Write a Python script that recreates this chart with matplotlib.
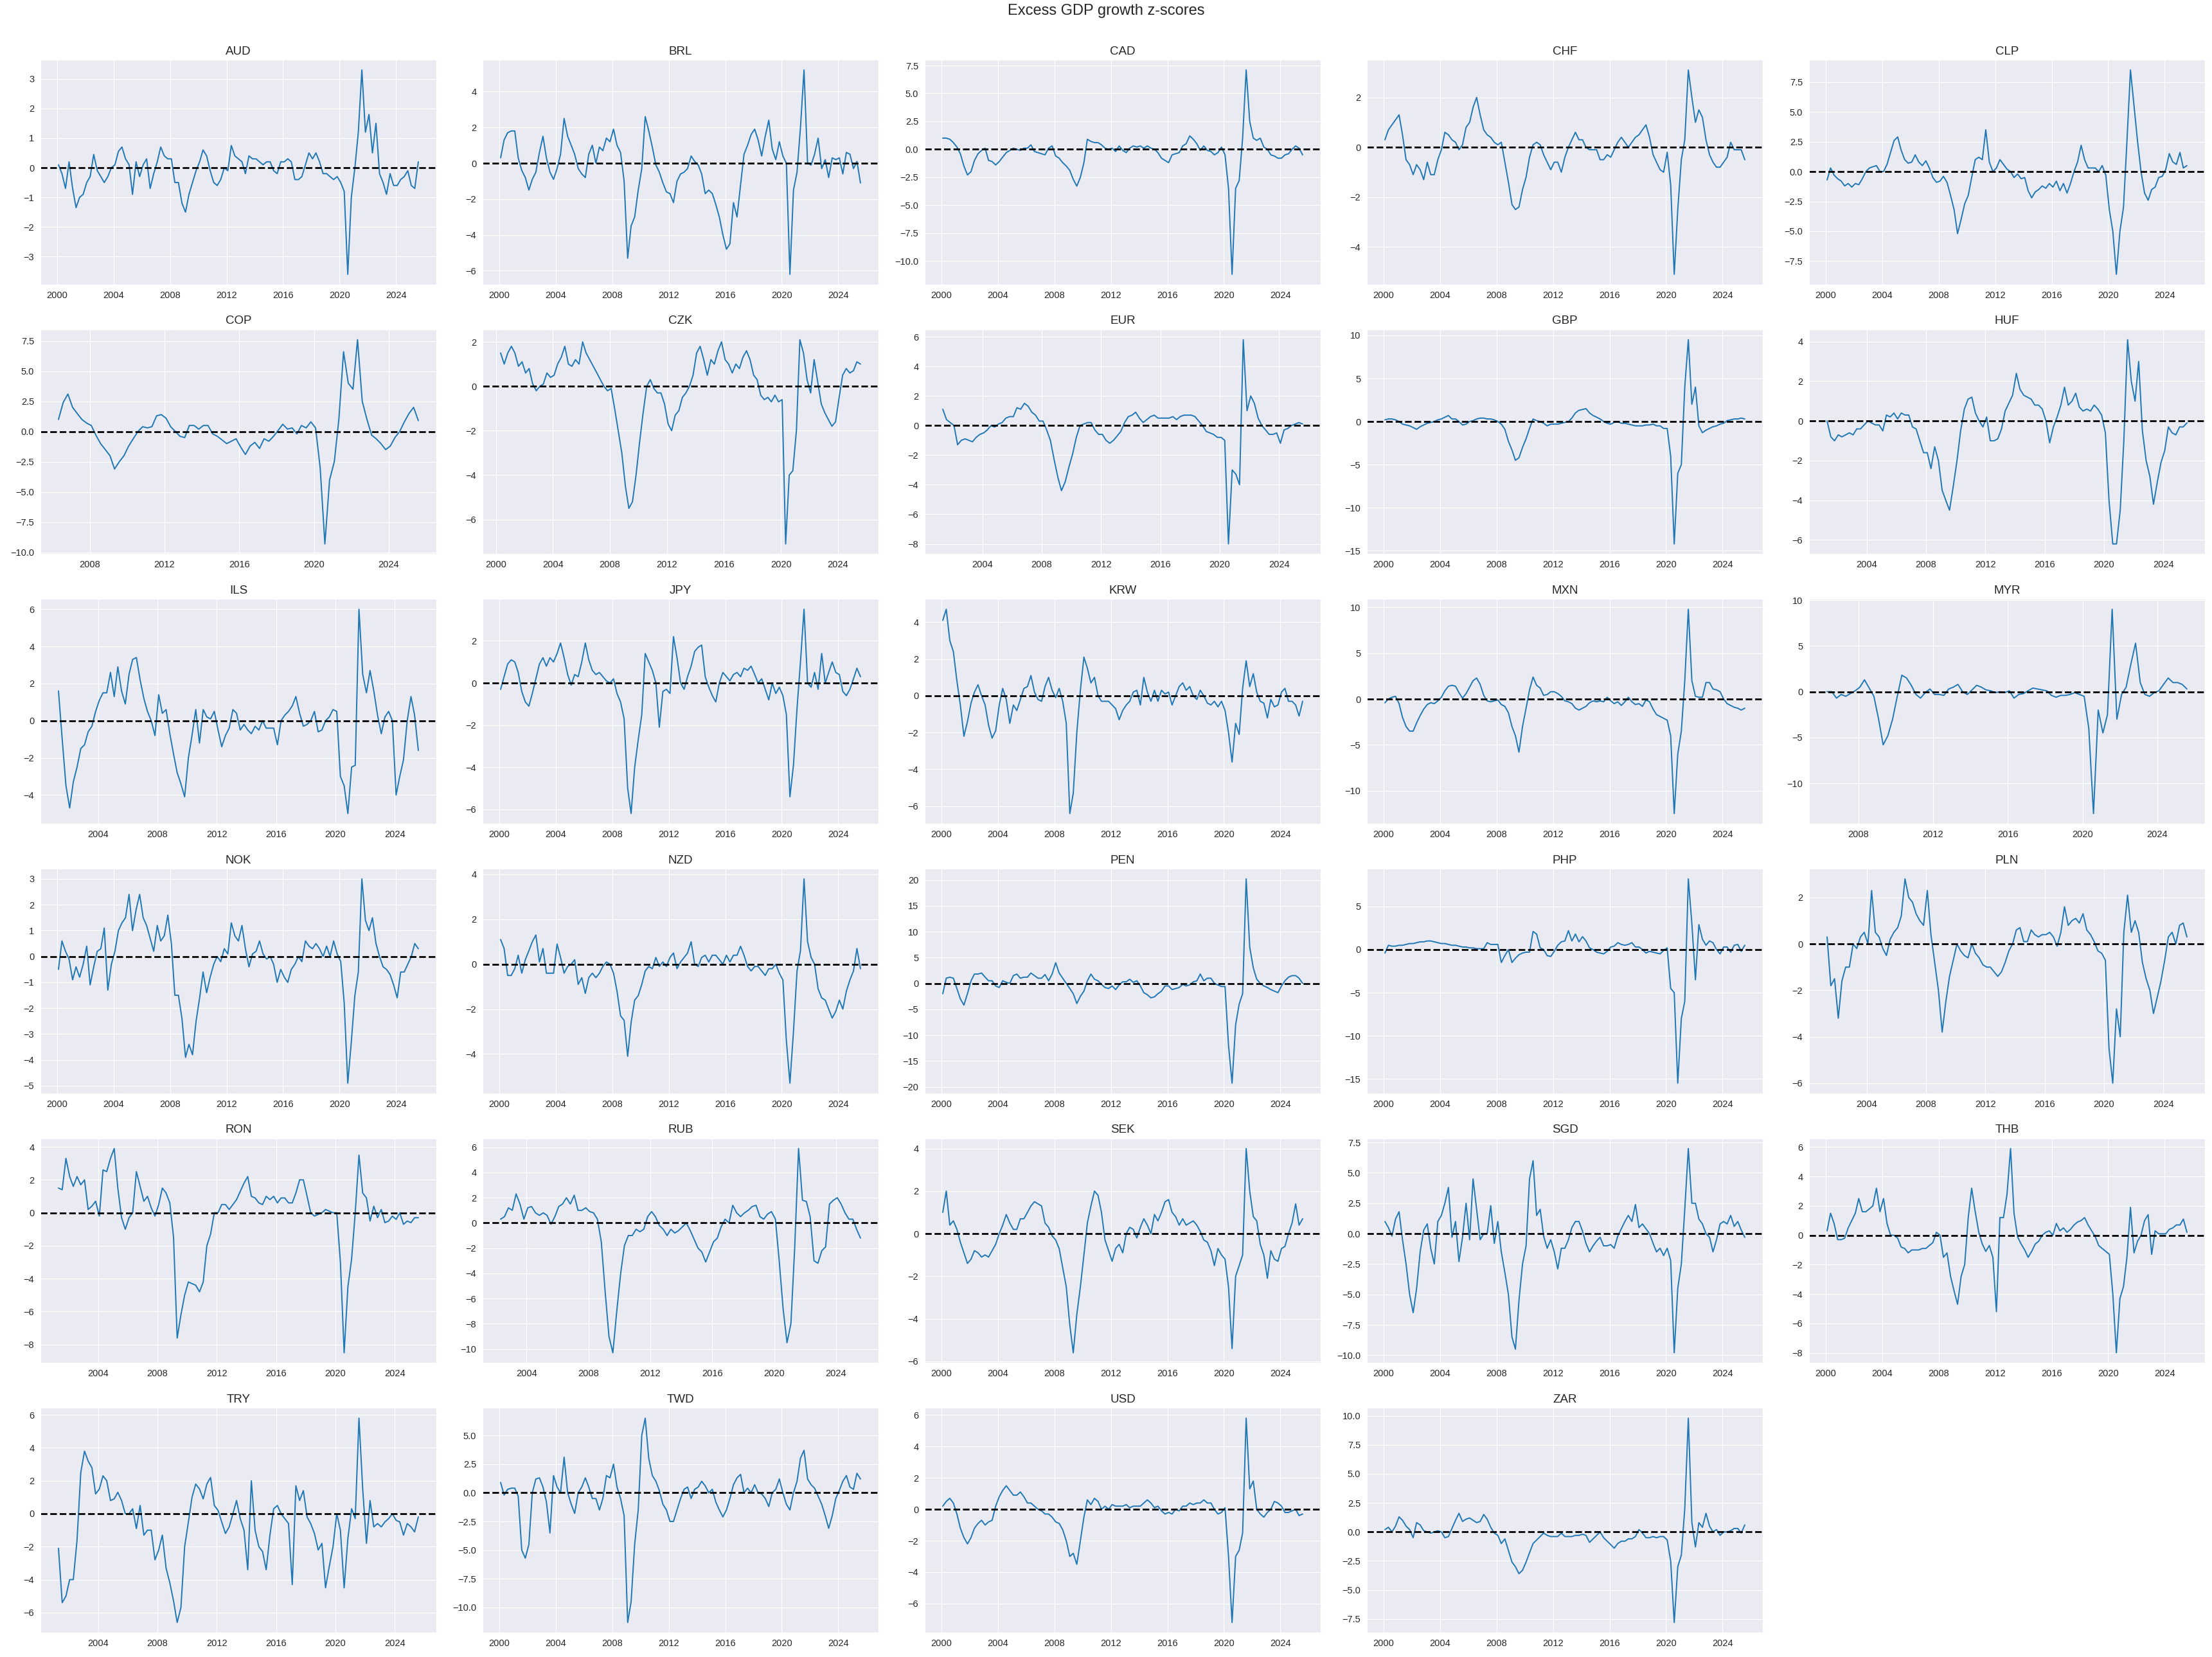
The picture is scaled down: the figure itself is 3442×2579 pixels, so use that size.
import pandas as pd
import matplotlib
matplotlib.use('Agg')
import matplotlib.pyplot as plt
import matplotlib.dates as mdates
import seaborn as sns

# Quarterly readings of the z-scores (Feb / May / Aug / Nov), one row per year.

aud_start = '2000-02-01'
aud = [0.1, -0.2, -0.7, 0.2,  # 2000
       -0.7, -1.35, -1.0, -0.9,
       -0.5, -0.3, 0.45, -0.1,
       -0.3, -0.5, -0.3, 0.0,
       0.1, 0.55, 0.7, 0.3,
       0.1, -0.9, 0.2, -0.3,  # 2005
       0.1, 0.3, -0.7, -0.2,
       0.2, 0.7, 0.4, 0.3,
       0.3, -0.5, -0.5, -1.2,
       -1.5, -0.9, -0.5, -0.1,
       0.2, 0.6, 0.4, -0.1,  # 2010
       -0.5, -0.6, -0.4, 0.0,
       -0.1, 0.75, 0.4, 0.3,
       0.2, -0.2, 0.4, 0.3,
       0.3, 0.2, 0.1, 0.2,
       0.2, -0.1, -0.2, 0.2,  # 2015
       0.2, 0.3, 0.2, -0.4,
       -0.4, -0.3, 0.1, 0.5,
       0.3, 0.5, 0.2, -0.2,
       -0.2, -0.3, -0.4, -0.3,
       -0.5, -0.8, -3.6, -1.0,  # 2020
       0.0, 1.2, 3.3, 1.2,
       1.8, 0.5, 1.5, -0.2,
       -0.5, -0.9, -0.2, -0.6,
       -0.6, -0.4, -0.3, -0.1,
       -0.6, -0.7, 0.2]  # 2025

brl_start = '2000-02-01'
brl = [0.3, 1.3, 1.7, 1.8,
       1.8, 0.3, -0.4, -0.8,
       -1.5, -0.9, -0.5, 0.6,
       1.5, 0.3, -0.5, -0.9,
       -0.3, 0.5, 2.5, 1.5,
       1.0, 0.5, -0.3, -0.6,
       -0.8, 0.5, 1.0, 0.0,
       0.9, 0.7, 1.4, 1.2,
       1.9, 1.0, 0.6, -1.0,
       -5.3, -3.5, -3.0, -1.5,
       -0.3, 2.6, 1.8, 0.9,
       -0.1, -0.5, -1.1, -1.6,
       -1.7, -2.2, -1.0, -0.6,
       -0.5, -0.3, 0.4, 0.1,
       -0.1, -0.6, -1.7, -1.5,
       -1.7, -2.3, -3.0, -4.0,
       -4.8, -4.5, -2.2, -3.0,
       -1.2, 0.5, 1.0, 1.6,
       1.9, 1.3, 0.4, 1.5,
       2.4, 0.8, 0.2, 1.2,
       0.4, 0.0, -6.2, -1.5,
       -0.5, 2.0, 5.2, 0.0,
       -0.1, 0.5, 1.4, -0.3,
       0.2, -0.8, 0.3, 0.2,
       0.3, -0.6, 0.6, 0.5,
       -0.3, 0.1, -1.1]

cad_start = '2000-02-01'
cad = [1.0, 1.0, 0.9, 0.6,
       0.2, -0.4, -1.5, -2.3,
       -2.0, -1.0, -0.4, -0.1,
       0.1, -1.0, -1.1, -1.4,
       -1.1, -0.7, -0.3, -0.1,
       0.1, 0.0, -0.1, 0.1,
       0.1, 0.4, -0.2, -0.3,
       -0.4, -0.5, 0.1, 0.3,
       -0.6, -0.8, -1.2, -1.5,
       -1.9, -2.7, -3.3, -2.5,
       -1.2, 0.9, 0.7, 0.6,
       0.6, 0.4, 0.1, 0.0,
       0.1, -0.2, 0.3, -0.1,
       -0.3, 0.1, 0.3, 0.2,
       0.3, 0.1, 0.3, 0.1,
       0.0, -0.3, -0.8, -1.0,
       -1.2, -0.5, -0.4, -0.3,
       0.3, 0.5, 1.2, 0.9,
       0.5, -0.1, 0.3, -0.1,
       -0.2, -0.5, -0.3, 0.2,
       -0.5, -3.5, -11.2, -3.5,
       -2.8, 1.0, 7.1, 2.5,
       1.0, 0.8, 1.0, 0.2,
       0.0, -0.5, -0.6, -0.8,
       -0.8, -0.5, -0.4, 0.0,
       0.3, 0.1, -0.5]

chf_start = '2000-02-01'
chf = [0.3, 0.7, 0.9, 1.1,
       1.3, 0.5, -0.5, -0.7,
       -1.1, -0.7, -0.9, -1.3,
       -0.6, -1.1, -1.1, -0.5,
       -0.1, 0.6, 0.5, 0.3,
       0.2, -0.1, 0.1, 0.8,
       1.0, 1.6, 2.0, 1.3,
       0.7, 0.5, 0.4, 0.2,
       0.1, 0.2, -0.6, -1.4,
       -2.3, -2.5, -2.4, -1.7,
       -1.2, -0.4, 0.1, 0.2,
       0.1, -0.3, -0.6, -0.9,
       -0.6, -0.6, -1.0, -0.4,
       0.0, 0.3, 0.6, 0.3,
       0.3, 0.0, -0.1, -0.1,
       -0.1, -0.5, -0.5, -0.3,
       -0.4, -0.1, 0.2, 0.4,
       0.2, 0.0, 0.2, 0.4,
       0.5, 0.7, 0.9, 0.4,
       -0.3, -0.6, -0.9, -1.0,
       -0.2, -1.5, -5.1, -2.5,
       -0.5, 0.3, 3.1, 2.0,
       1.0, 1.5, 1.2, 0.3,
       -0.3, -0.6, -0.8, -0.8,
       -0.6, -0.4, 0.2, -0.1,
       -0.1, -0.1, -0.5]

clp_start = '2000-02-01'
clp = [-0.7, 0.3, -0.3, -0.6,
       -0.8, -1.2, -1.0, -1.3,
       -1.0, -1.1, -0.6, 0.0,
       0.3, 0.4, 0.5, 0.0,
       0.0, 0.6, 1.6, 2.6,
       2.9, 1.8, 1.0, 0.7,
       0.8, 1.4, 0.8, 0.5,
       0.9, 0.3, -0.5, -0.9,
       -0.8, -0.4, -0.9, -2.0,
       -3.2, -5.2, -4.0, -2.7,
       -2.0, -0.5, 1.0, 1.2,
       1.0, 3.5, 0.8, 0.0,
       0.3, 1.0, 0.6, 0.2,
       0.0, -0.5, -0.2, -0.6,
       -0.5, -1.6, -2.2, -1.7,
       -1.5, -1.2, -1.4, -1.0,
       -1.3, -0.8, -1.6, -1.0,
       -1.8, -1.0, 0.0, 0.8,
       2.2, 1.0, 0.3, 0.3,
       0.3, 0.0, 0.5, -0.3,
       -3.2, -5.0, -8.6, -5.0,
       -3.0, 2.5, 8.5, 5.5,
       2.5, 0.0, -1.8, -2.4,
       -1.5, -1.3, -0.5, -0.4,
       0.2, 1.5, 0.8, 0.6,
       1.6, 0.3, 0.5]

cop_start = '2006-05-01'
cop = [1.0, 2.4, 3.1,  # 2006
       2.0, 1.5, 1.0, 0.7,
       0.5, -0.3, -1.0, -1.5,
       -2.0, -3.1, -2.5, -2.0,
       -1.2, -0.6, 0.0, 0.4,
       0.3, 0.4, 1.3, 1.4,
       1.1, 0.4, 0.0, -0.4,
       -0.5, 0.5, 0.5, 0.2,
       0.5, 0.5, -0.2, -0.4,
       -0.7, -1.0, -0.8, -0.6,
       -1.3, -1.9, -1.2, -0.9,
       -1.4, -0.6, -0.8, -0.4,
       0.1, 0.6, 0.2, 0.3,
       -0.2, 0.5, 0.3, 0.8,
       0.3, -3.0, -9.3, -4.0,
       -2.5, 1.0, 6.6, 4.0,
       3.5, 7.6, 2.5, 1.0,
       -0.3, -0.6, -1.0, -1.5,
       -1.2, -0.5, 0.0, 0.8,
       1.5, 2.0, 0.9]

czk_start = '2000-05-01'
czk = [1.5, 1.0, 1.5,  # 2000
       1.8, 1.5, 0.9, 1.1,
       0.6, 0.8, 0.1, -0.2,
       0.0, 0.1, 0.6, 0.4,
       0.5, 1.0, 1.3, 1.8,
       1.0, 0.9, 1.2, 1.0,
       2.0, 1.5, 1.2, 0.9,
       0.6, 0.3, 0.0, -0.2,
       -0.1, -1.0, -2.0, -3.0,
       -4.5, -5.5, -5.2, -4.0,
       -2.5, -1.2, 0.0, 0.3,
       -0.1, -0.3, -0.3, -0.8,
       -1.7, -2.0, -1.3, -1.1,
       -0.5, -0.3, 0.0, 0.5,
       1.5, 1.8, 1.2, 0.5,
       1.2, 1.0, 1.6, 2.0,
       1.2, 1.0, 0.6, 1.0,
       0.8, 1.3, 1.6, 1.2,
       0.5, 0.3, -0.4, -0.6,
       -0.5, -0.7, -0.4, -0.7,
       -0.6, -7.1, -4.0, -3.8,
       -2.0, 2.1, 1.5, 0.3,
       -0.3, 1.2, 0.2, -0.8,
       -1.2, -1.5, -1.8, -1.6,
       -0.5, 0.5, 0.8, 0.6,
       0.7, 1.1, 1.0]

eur_start = '2001-05-01'
eur = [1.1, 0.4, 0.2,  # 2001
       0.0, -1.3, -1.0, -0.9,
       -1.0, -1.1, -0.8, -0.6,
       -0.5, -0.3, 0.0, -0.1,
       0.1, 0.2, 0.5, 0.6,
       0.6, 1.2, 1.1, 1.5,
       1.3, 0.9, 0.7, 0.3,
       0.3, -0.3, -1.0, -2.3,
       -3.5, -4.4, -3.8, -2.8,
       -1.9, -0.8, 0.0, 0.1,
       0.2, 0.2, -0.3, -0.6,
       -0.6, -1.0, -1.2, -1.0,
       -0.7, -0.4, 0.2, 0.6,
       0.7, 0.9, 0.5, 0.2,
       0.4, 0.6, 0.7, 0.5,
       0.5, 0.5, 0.5, 0.6,
       0.4, 0.6, 0.7, 0.7,
       0.7, 0.6, 0.3, 0.0,
       -0.4, -0.5, -0.6, -0.8,
       -0.8, -1.0, -8.0, -3.0,
       -3.3, -4.0, 5.8, 1.0,
       2.0, 1.5, 0.5, 0.0,
       -0.3, -0.6, -0.6, -0.5,
       -1.2, -0.3, -0.2, 0.0,
       0.1, 0.2, 0.1]

gbp_start = '2000-02-01'
gbp = [0.2, 0.3, 0.3, 0.2,
       0.0, -0.3, -0.4, -0.5,
       -0.7, -0.9, -0.6, -0.4,
       -0.2, -0.1, 0.0, 0.2,
       0.3, 0.5, 0.7, 0.3,
       0.3, 0.0, -0.4, -0.3,
       0.0, 0.1, 0.3, 0.4,
       0.4, 0.3, 0.3, 0.2,
       0.0, -0.3, -0.9, -2.3,
       -3.3, -4.5, -4.2, -3.0,
       -2.0, -0.8, 0.3, 0.1,
       0.0, -0.2, -0.5, -0.3,
       -0.3, -0.3, -0.2, -0.1,
       0.0, 0.4, 1.0, 1.3,
       1.4, 1.5, 1.0, 0.7,
       0.5, 0.3, 0.0, -0.2,
       -0.3, -0.1, 0.0, -0.2,
       -0.2, -0.3, -0.4, -0.5,
       -0.5, -0.5, -0.4, -0.4,
       -0.3, -0.5, -0.5, -0.8,
       -0.8, -4.0, -14.2, -6.0,
       -5.0, 4.0, 9.5, 2.0,
       4.0, -0.5, -1.3, -1.0,
       -0.8, -0.6, -0.5, -0.3,
       -0.2, 0.1, 0.2, 0.3,
       0.3, 0.4, 0.3]

huf_start = '2001-05-01'
huf = [0.0, -0.8, -1.0,  # 2001
       -0.7, -0.8, -0.7, -0.6,
       -0.7, -0.4, -0.4, -0.2,
       0.0, -0.1, -0.2, -0.2,
       -0.5, 0.3, 0.2, 0.4,
       0.1, 0.4, 0.3, 0.3,
       -0.3, -0.4, -1.0, -1.6,
       -1.6, -2.4, -1.3, -2.0,
       -3.5, -4.0, -4.5, -3.3,
       -2.0, -0.5, 0.6, 1.1,
       1.2, 0.4, 0.0, -0.3,
       0.2, -1.0, -1.0, -0.9,
       -0.4, 0.5, 0.9, 1.3,
       2.4, 1.6, 1.3, 1.2,
       1.1, 0.8, 0.8, 0.6,
       0.0, -1.1, -0.3, 0.2,
       0.8, 1.7, 0.8, 1.0,
       1.4, 0.7, 0.5, 0.6,
       0.5, 0.8, 0.6, 0.3,
       -0.6, -4.0, -6.2, -6.2,
       -4.5, -1.0, 4.1, 2.0,
       1.0, 3.0, -0.5, -2.0,
       -2.8, -4.2, -3.1, -2.1,
       -1.5, -0.3, -0.6, -0.7,
       -0.3, -0.3, -0.1]

ils_start = '2001-05-01'
ils = [1.6, -1.0, -3.5,  # 2001
       -4.7, -3.3, -2.5, -1.5,
       -1.3, -0.6, -0.3, 0.5,
       1.1, 1.5, 1.5, 2.6,
       1.3, 2.9, 1.6, 0.9,
       2.5, 3.3, 3.4, 2.2,
       1.2, 0.5, 0.0, -0.8,
       1.4, 0.4, 0.6, -0.7,
       -1.8, -2.8, -3.4, -4.1,
       -2.0, -0.8, 0.6, -1.2,
       0.6, 0.2, 0.1, 0.5,
       -0.5, -1.4, -0.8, -0.4,
       0.6, 0.4, -0.5, -0.2,
       -0.5, -0.7, -0.3, -0.5,
       0.0, -0.4, -0.4, -0.4,
       -1.3, 0.0, 0.3, 0.5,
       0.8, 1.3, 0.4, -0.3,
       -0.2, 0.0, 0.5, -0.6,
       -0.5, 0.0, 0.2, 0.6,
       0.5, -3.0, -3.5, -5.0,
       -2.5, -2.4, 6.0, 2.5,
       1.5, 2.7, 1.6, 0.3,
       -0.7, 0.2, 0.5, 0.0,
       -4.0, -3.0, -2.1, 0.0,
       1.3, 0.3, -1.6]

jpy_start = '2000-02-01'
jpy = [-0.3, 0.3, 0.9, 1.1,
       1.0, 0.5, -0.4, -0.9,
       -1.1, -0.5, 0.2, 0.9,
       1.2, 0.8, 1.2, 1.0,
       1.4, 1.9, 1.2, 0.4,
       -0.1, 0.4, 0.3, 1.0,
       1.9, 1.1, 0.6, 0.4,
       0.5, 0.3, 0.1, 0.0,
       0.2, -0.5, -0.9, -1.7,
       -5.0, -6.2, -4.0, -2.7,
       -1.5, 1.4, 1.0, 0.6,
       0.0, -2.1, -0.4, -0.3,
       -0.5, 2.2, 1.2, 0.0,
       -0.3, 0.3, 0.8, 1.5,
       1.7, 1.8, 0.3, -0.2,
       -0.6, -0.9, 0.0, 0.5,
       0.3, 0.1, 0.4, 0.5,
       0.3, 0.7, 0.6, 0.8,
       0.4, 0.0, 0.2, -0.3,
       -0.8, 0.0, -0.5, -0.2,
       -0.6, -1.5, -5.4, -3.9,
       -1.2, 1.0, 3.5, 0.0,
       -0.2, 0.5, -0.3, 1.4,
       0.0, 0.5, 1.0, 0.5,
       0.4, -0.4, -0.6, -0.3,
       0.2, 0.7, 0.3]

krw_start = '2000-02-01'
krw = [4.1, 4.7, 3.0, 2.4,
       0.8, -0.5, -2.2, -1.4,
       -0.4, 0.2, 0.6, 0.0,
       -0.5, -1.6, -2.3, -1.9,
       -0.5, 0.4, -0.2, -1.5,
       -0.5, -0.8, -0.2, 0.4,
       0.5, 1.1, 0.2, -0.2,
       -0.3, 0.5, 1.0, 0.3,
       -0.1, 0.4, -0.3, -1.5,
       -6.4, -5.3, -2.0, 0.3,
       2.1, 1.5, 0.7, 1.0,
       0.0, -0.3, -0.3, -0.3,
       -0.5, -0.7, -1.3, -0.8,
       -0.5, -0.3, 0.2, 0.3,
       -0.5, 1.0, 0.2, -0.3,
       0.3, -0.3, 0.3, 0.1,
       0.2, -0.5, 0.0, 0.5,
       0.7, 0.3, 0.5, 0.0,
       -0.2, 0.3, 0.0, -0.4,
       -0.5, -0.3, -0.6, -0.3,
       -0.8, -2.0, -3.6, -1.5,
       -2.1, 0.4, 1.9, 0.5,
       1.2, 0.2, -0.3, -0.4,
       -1.2, -0.2, -0.6, -0.5,
       0.2, 0.4, -0.3, -0.3,
       -0.5, -1.1, -0.3]

mxn_start = '2000-02-01'
mxn = [-0.4, 0.0, 0.2, 0.3,
       -0.5, -2.0, -3.0, -3.5,
       -3.5, -2.6, -1.8, -1.1,
       -0.6, -0.4, -0.5, -0.2,
       0.2, 0.9, 1.4, 1.5,
       1.4, 0.7, 0.1, 0.6,
       1.3, 2.0, 2.3, 1.6,
       0.4, -0.2, -0.3, -0.2,
       -0.1, -0.6, -0.8, -1.5,
       -3.0, -4.0, -5.8, -3.0,
       -1.0, 1.0, 2.4, 1.5,
       1.2, 0.4, 0.5, 0.8,
       0.8, 0.6, 0.3, -0.2,
       -0.3, -0.5, -1.0, -1.2,
       -1.0, -0.8, -0.4, -0.2,
       -0.3, -0.2, -0.3, 0.2,
       -0.2, -0.5, -0.3, -0.7,
       -0.3, 0.2, -0.3, -0.6,
       -0.5, -0.8, -0.1, -0.3,
       -1.1, -1.7, -1.9, -2.1,
       -2.3, -4.0, -12.5, -6.0,
       -3.5, 2.0, 9.8, 2.0,
       0.3, 0.2, 0.2, 1.8,
       1.8, 1.1, 1.0, 0.8,
       0.0, -0.5, -0.7, -0.9,
       -1.0, -1.2, -1.0]

myr_start = '2006-05-01'
myr = [0.0, 0.0, -0.7,  # 2006
       -0.3, -0.5, -0.2, 0.1,
       0.5, 1.3, 0.4, -0.5,
       -3.0, -5.8, -4.8, -3.0,
       -0.5, 1.8, 1.5, 0.7,
       -0.3, -0.7, -0.1, 0.3,
       -0.3, -0.3, -0.4, 0.3,
       0.5, 0.8, 0.0, -0.3,
       0.2, 0.7, 0.5, 0.2,
       0.1, -0.1, 0.0, -0.1,
       0.1, -0.7, -0.3, -0.2,
       0.1, 0.4, 0.3, 0.2,
       0.1, -0.4, -0.6, -0.4,
       -0.4, -0.3, -0.1, -0.3,
       -0.5, -4.0, -13.3, -2.0,
       -4.5, -2.5, 9.0, -3.0,
       -0.3, 0.5, 3.0, 5.3,
       1.0, -0.3, -0.5, -0.1,
       0.1, 0.8, 1.5, 1.0,
       1.0, 0.8, 0.3]

nok_start = '2000-02-01'
nok = [-0.5, 0.6, 0.2, -0.1,
       -0.9, -0.4, -0.8, -0.3,
       0.4, -1.1, -0.4, 0.2,
       0.3, 1.1, -1.3, -0.3,
       0.2, 1.0, 1.3, 1.5,
       2.4, 1.0, 1.8, 2.4,
       1.5, 1.2, 0.7, 0.2,
       1.2, 0.6, 0.8, 1.6,
       0.5, -1.5, -1.5, -2.4,
       -3.9, -3.4, -3.8, -2.5,
       -1.6, -0.6, -1.4, -0.8,
       -0.3, 0.0, -0.2, 0.3,
       0.1, 1.3, 0.8, 0.6,
       1.2, 0.3, -0.4, 0.1,
       0.2, 0.6, 0.1, -0.1,
       0.0, -0.3, -1.0, -0.5,
       -0.8, -1.0, -0.5, -0.3,
       0.0, -0.2, 0.6, 0.4,
       0.3, 0.5, 0.3, 0.0,
       0.4, 0.0, 0.6, 0.1,
       -0.2, -1.8, -4.9, -3.3,
       -1.5, -0.6, 3.0, 1.4,
       1.0, 1.5, 0.5, 0.0,
       -0.4, -0.5, -0.7, -1.1,
       -1.6, -0.6, -0.6, -0.3,
       0.0, 0.5, 0.3]

nzd_start = '2000-02-01'
nzd = [1.1, 0.7, -0.5, -0.5,
       -0.2, 0.4, -0.4, 0.2,
       0.6, 1.0, 1.3, 0.1,
       0.7, -0.4, -0.4, -0.4,
       0.9, 0.3, -0.4, -0.1,
       0.0, 0.2, -0.9, -0.6,
       -1.3, -0.6, -0.4, -0.6,
       -0.4, -0.1, 0.1, 0.0,
       -0.4, -1.2, -2.3, -2.5,
       -4.1, -2.6, -1.6, -1.4,
       -0.9, -0.3, -0.1, -0.2,
       0.3, -0.1, 0.1, -0.1,
       0.3, 0.5, -0.2, 0.1,
       0.3, 0.5, 1.0, 0.0,
       -0.1, 0.3, 0.4, 0.1,
       0.4, 0.4, 0.2, 0.0,
       0.4, 0.1, 0.4, 0.4,
       0.8, 0.4, -0.1, -0.3,
       -0.1, -0.1, -0.3, -0.5,
       -0.2, -0.2, 0.0, -0.4,
       -0.7, -3.4, -5.3, -3.0,
       -0.3, 0.6, 3.8, 1.0,
       0.3, 0.0, -1.1, -1.5,
       -1.6, -2.0, -2.4, -2.1,
       -1.6, -2.0, -1.2, -0.7,
       -0.3, 0.7, -0.2]

pen_start = '2000-02-01'
pen = [-2.0, 1.0, 1.2, 1.0,
       -1.0, -3.0, -4.2, -2.0,
       0.5, 1.8, 1.8, 2.0,
       1.2, 0.5, 0.5, -0.5,
       -0.8, 0.5, 0.2, 0.0,
       1.5, 1.8, 1.0, 1.2,
       1.2, 2.0, 1.5, 1.0,
       1.0, 1.7, 0.5, 1.8,
       4.0, 2.0, 1.0, 0.0,
       -1.0, -2.0, -3.9, -2.5,
       -1.5, 0.5, 1.8, 0.8,
       0.5, -0.2, -0.8, -1.0,
       -0.5, -1.2, -0.3, 0.3,
       0.3, 0.8, 0.2, 0.5,
       -0.5, -1.8, -2.2, -2.8,
       -2.6, -2.0, -1.5, -0.5,
       -0.5, -1.2, -1.0, -0.8,
       -0.2, -0.5, -0.3, 0.3,
       0.5, 1.8, 0.5, 1.0,
       1.0, 0.0, -0.3, -0.6,
       -0.6, -12.0, -19.3, -8.0,
       -4.0, -2.0, 20.2, 7.0,
       3.0, 0.8, 0.0, -0.5,
       -0.8, -1.2, -1.5, -1.8,
       -0.5, 0.5, 1.2, 1.5,
       1.5, 1.0, 0.0]

php_start = '2000-02-01'
php = [-0.4, 0.5, 0.4, 0.4,
       0.5, 0.5, 0.6, 0.7,
       0.7, 0.8, 0.9, 0.9,
       1.0, 1.0, 0.9, 0.8,
       0.7, 0.7, 0.6, 0.5,
       0.5, 0.4, 0.3, 0.3,
       0.2, 0.2, 0.1, 0.1,
       0.1, 0.8, 0.6, 0.6,
       0.6, -1.5, -0.7, 0.0,
       -1.5, -1.0, -0.6, -0.4,
       -0.3, -0.3, 2.1, 1.8,
       0.2, 0.0, -0.7, -0.8,
       -0.2, 0.5, 0.9, 1.0,
       2.2, 1.0, 1.8, 0.9,
       1.5, 1.0, 0.2, 0.0,
       -0.3, -0.4, -0.5, -0.2,
       0.3, 0.4, 0.8, 0.6,
       0.5, 0.6, 0.8, 0.3,
       0.3, 0.0, -0.4, -0.2,
       -0.3, -0.4, -0.5, -0.1,
       0.2, -4.5, -5.0, -15.5,
       -8.0, -6.0, 8.2, 3.0,
       -3.5, 2.9, 1.2, 0.5,
       1.0, 0.8, 0.0, -0.5,
       0.3, 0.3, -0.3, 0.5,
       0.6, -0.2, 0.5]

pln_start = '2001-05-01'
pln = [0.3, -1.8, -1.5,  # 2001
       -3.2, -1.6, -1.0, -1.0,
       0.0, -0.2, 0.3, 0.5,
       0.0, 2.3, 0.5, 0.3,
       -0.2, -0.5, 0.2, 0.5,
       0.7, 1.2, 2.8, 2.0,
       1.8, 1.3, 1.0, 0.8,
       2.3, 0.4, -0.8, -2.0,
       -3.8, -2.5, -1.4, -0.7,
       0.0, -0.3, -0.5, -0.6,
       0.0, -0.4, -0.6, -0.9,
       -1.0, -1.0, -1.2, -1.4,
       -1.2, -0.8, -0.3, 0.0,
       0.6, 0.7, 0.1, 0.1,
       0.6, 0.4, 0.3, 0.4,
       0.4, 0.5, 0.3, -0.1,
       0.5, 1.6, 0.8, 1.0,
       1.1, 0.9, 1.3, 0.6,
       0.4, 0.1, -0.3, -0.4,
       -0.7, -4.5, -6.0, -2.8,
       -4.0, 0.5, 2.1, 0.5,
       1.0, 0.5, -0.8, -1.5,
       -2.0, -3.0, -2.3, -1.6,
       -0.7, 0.3, 0.5, 0.0,
       0.8, 0.9, 0.3]

ron_start = '2001-05-01'
ron = [1.5, 1.4, 3.3,  # 2001
       2.2, 1.6, 2.2, 1.7,
       2.0, 0.2, 0.4, 0.7,
       -0.2, 2.6, 2.5, 3.3,
       3.9, 1.5, -0.3, -1.0,
       -0.3, 0.0, 2.5, 1.6,
       0.7, 1.0, 0.3, -0.2,
       0.5, 1.5, 1.2, 0.6,
       -1.5, -7.6, -6.2, -5.0,
       -4.2, -4.3, -4.4, -4.8,
       -4.2, -2.0, -1.3, 0.0,
       0.0, 0.5, 0.5, 0.2,
       0.5, 0.8, 1.3, 1.8,
       2.2, 1.0, 0.9, 0.6,
       0.5, 1.0, 0.8, 1.0,
       0.6, 0.9, 0.9, 0.6,
       0.6, 1.2, 2.0, 2.0,
       1.0, 0.0, -0.2, -0.1,
       0.0, 0.2, 0.1, 0.0,
       0.0, -3.0, -8.5, -4.5,
       -2.8, 0.0, 3.5, 1.2,
       0.9, -0.5, 0.4, -0.3,
       0.2, -0.6, -0.5, -0.2,
       -0.4, 0.0, -0.7, -0.5,
       -0.6, -0.3, -0.3]

rub_start = '2002-05-01'
rub = [0.3, 0.5, 1.2,  # 2002
       1.0, 2.3, 1.5, 0.3,
       1.2, 1.3, 0.8, 0.6,
       0.8, 0.6, -0.1, 0.5,
       1.3, 1.5, 2.0, 1.5,
       2.2, 1.0, 1.0, 1.2,
       0.9, 0.8, 0.3, -1.5,
       -5.5, -9.0, -10.3, -7.0,
       -4.0, -1.8, -1.0, -1.0,
       -0.5, -0.7, -0.5, 0.5,
       0.9, 0.5, -0.2, -0.5,
       -1.0, -0.5, -0.8, -0.6,
       -0.3, 0.0, -0.6, -1.3,
       -2.0, -2.3, -3.1, -2.3,
       -1.5, -1.2, -0.3, 0.3,
       0.0, 1.4, 0.8, 0.5,
       0.8, 1.0, 1.3, 1.4,
       0.5, 0.3, 0.7, 0.9,
       0.3, -3.0, -6.8, -9.5,
       -8.0, -2.0, 5.9, 1.8,
       1.7, 0.5, -3.0, -3.2,
       -2.2, -1.9, 1.5, 1.8,
       2.0, 1.5, 0.8, 0.3,
       0.3, -0.5, -1.2]

sek_start = '2000-02-01'
sek = [1.0, 2.0, 0.4, 0.6,
       0.2, -0.4, -0.9, -1.4,
       -1.2, -0.8, -0.9, -1.1,
       -1.0, -1.1, -0.8, -0.5,
       0.0, 0.4, 0.9, 0.5,
       0.2, 0.2, 0.7, 0.7,
       1.0, 1.3, 1.5, 1.4,
       1.3, 0.5, 0.3, -0.1,
       -0.3, -0.7, -1.6, -2.5,
       -4.3, -5.6, -3.8, -2.5,
       -1.0, 0.5, 1.3, 2.0,
       1.8, 1.0, -0.3, -0.8,
       -1.3, -0.7, -0.5, -0.9,
       0.0, 0.3, 0.2, -0.2,
       0.3, 0.7, 0.4, 0.0,
       0.9, 0.6, 1.0, 1.5,
       1.6, 1.0, 0.8, 0.4,
       0.7, 0.4, 0.5, 0.6,
       0.4, 0.1, -0.3, -0.4,
       -0.8, -1.5, -0.7, -1.0,
       -1.2, -2.5, -5.4, -2.0,
       -1.5, -1.0, 4.0, 2.0,
       0.8, 0.6, -0.5, -1.0,
       -2.1, -0.8, -1.2, -1.3,
       -0.7, -0.6, 0.0, 0.5,
       1.4, 0.4, 0.7]

sgd_start = '2000-02-01'
sgd = [1.0, 0.5, -0.2, 1.2,
       1.8, -0.5, -2.5, -5.0,
       -6.5, -4.5, -1.5, 0.3,
       0.8, -1.2, -2.5, 1.0,
       1.5, 2.5, 3.8, -0.3,
       1.0, -2.3, -0.3, 2.5,
       -0.5, 4.5, 2.0, -0.5,
       0.0, 0.0, 2.3, -0.8,
       1.0, -1.5, -3.2, -5.0,
       -8.5, -9.5, -5.5, -2.5,
       -1.0, 4.5, 6.0, 1.5,
       2.0, -0.2, -1.2, -0.5,
       -1.5, -2.9, -1.2, -1.2,
       -0.5, 0.5, 1.0, 1.0,
       0.2, -0.8, -1.5, -1.0,
       -0.6, -0.3, -1.0, -1.0,
       -0.9, -1.2, -0.2, 0.4,
       1.0, 1.5, 1.0, 2.4,
       0.5, 0.8, 0.4, 0.0,
       -0.8, -1.5, -1.2, -1.8,
       -1.2, -2.2, -9.8, -4.5,
       -2.5, 2.0, 7.0, 2.5,
       2.5, 1.2, 0.8, 0.0,
       -0.3, -1.5, -0.5, 0.8,
       1.0, 0.8, 1.5, 0.6,
       1.0, 0.3, -0.3]

thb_start = '2000-02-01'
thb = [0.3, 1.5, 0.8, -0.3,
       -0.3, -0.2, 0.5, 1.0,
       1.5, 2.5, 1.6, 1.6,
       1.8, 2.0, 3.2, 1.6,
       2.5, 0.8, 0.0, 0.0,
       -0.2, -0.8, -0.9, -1.2,
       -1.0, -1.0, -1.0, -0.9,
       -0.9, -0.7, -0.5, 0.2,
       0.0, -1.5, -1.2, -2.8,
       -3.8, -4.7, -2.8, -2.0,
       1.2, 3.2, 1.6, 0.2,
       -0.6, -1.1, -0.7, -1.5,
       -5.2, 1.2, 1.2, 2.8,
       5.9, 1.5, -0.1, -0.6,
       -1.0, -1.5, -1.1, -0.6,
       -0.4, 0.0, 0.2, 0.3,
       0.0, 0.8, 0.3, 0.5,
       0.2, 0.4, 0.7, 0.9,
       1.0, 1.2, 0.7, 0.3,
       -0.1, -0.7, -0.9, -1.1,
       -1.3, -4.0, -8.0, -4.3,
       -3.5, -1.5, 1.9, -1.2,
       -0.4, 0.0, 1.0, 1.4,
       -1.3, 0.3, 0.1, 0.1,
       0.1, 0.4, 0.5, 0.7,
       0.7, 1.1, 0.2]

try_start = '2001-05-01'
try_ = [-2.1, -5.4, -5.0,  # 2001
        -4.0, -4.0, -1.6, 2.5,
        3.8, 3.2, 2.8, 1.2,
        1.5, 2.3, 2.0, 0.8,
        0.9, 1.3, 0.8, 0.0,
        0.0, 0.3, -0.9, 0.5,
        -1.3, -1.0, -1.0, -2.8,
        -2.2, -1.3, -3.3, -4.2,
        -5.3, -6.6, -5.7, -2.0,
        -0.5, 1.0, 1.8, 1.5,
        0.9, 1.8, 2.2, 0.5,
        0.2, -0.5, -1.2, -0.8,
        0.0, 0.8, -0.3, -1.0,
        -3.4, 2.0, -1.0, -2.0,
        -2.3, -3.4, -1.3, 0.3,
        0.5, 0.0, -0.3, -0.6,
        -4.3, 1.7, 0.8, 1.4,
        -0.2, -0.6, -1.2, -2.2,
        -1.8, -4.5, -3.2, -2.0,
        0.0, -1.0, -4.5, -1.5,
        0.3, -0.3, 5.8, 1.5,
        -1.8, 0.8, -0.8, -0.6,
        -0.8, -0.5, -0.3, 0.0,
        -0.4, -0.5, -1.3, -0.6,
        -0.8, -1.1, -0.2]

twd_start = '2000-02-01'
twd = [0.9, -0.2, 0.3, 0.4,
       0.4, -0.3, -5.0, -5.7,
       -4.5, 0.0, 1.2, 1.3,
       0.5, -0.8, -3.5, 1.5,
       0.5, 0.0, 3.1, 0.0,
       -1.0, -1.8, 0.0, 0.5,
       1.3, 0.5, -0.5, -0.5,
       -1.5, -0.5, 1.5, 1.3,
       2.5, 0.5, -0.5, -2.0,
       -11.3, -9.5, -4.5, -1.5,
       5.0, 6.5, 3.0, 1.5,
       1.0, 0.2, -1.0, -1.5,
       -2.5, -2.5, -1.5, -0.5,
       0.3, 0.5, -0.5, 0.3,
       0.5, 1.0, 0.6, 0.0,
       0.3, -0.8, -1.5, -2.1,
       -1.5, -0.5, 0.7, 1.3,
       1.6, 0.0, 0.4, 0.0,
       0.7, 0.0, -0.1, -0.5,
       -1.2, 0.0, 0.3, 1.2,
       0.0, -1.0, -1.5, 0.0,
       1.0, 3.0, 3.7, 1.2,
       0.7, 0.4, -0.3, -1.0,
       -2.0, -3.1, -2.0, -0.5,
       0.2, 1.0, 1.5, 0.5,
       0.3, 1.7, 1.2]

usd_start = '2000-02-01'
usd = [0.2, 0.5, 0.7, 0.4,
       -0.3, -1.2, -1.8, -2.2,
       -1.8, -1.2, -0.9, -0.7,
       -1.0, -0.8, -0.7, 0.2,
       0.8, 1.2, 1.5, 1.2,
       0.9, 0.9, 1.1, 0.8,
       0.4, 0.4, 0.2, 0.0,
       -0.1, -0.3, -0.3, -0.5,
       -0.8, -0.9, -1.3, -2.0,
       -3.0, -2.8, -3.5, -2.0,
       -0.5, 0.6, 0.3, 0.7,
       0.5, 0.0, 0.2, 0.0,
       0.3, 0.2, 0.2, 0.2,
       0.3, 0.1, 0.2, 0.2,
       0.2, 0.4, 0.6, 0.4,
       0.1, 0.2, -0.1, -0.3,
       -0.2, -0.3, 0.0, -0.1,
       0.2, 0.2, 0.4, 0.3,
       0.4, 0.4, 0.6, 0.4,
       0.4, 0.0, -0.3, -0.2,
       0.1, -3.0, -7.2, -3.0,
       -2.6, -1.5, 5.8, 1.3,
       1.8, 0.0, -0.3, -0.5,
       -0.2, 0.0, 0.5, 0.4,
       0.2, -0.2, -0.2, -0.1,
       0.0, -0.4, -0.3]

zar_start = '2000-02-01'
zar = [0.2, 0.4, 0.0, 0.5,
       1.3, 1.0, 0.5, 0.2,
       -0.5, 0.8, 0.6, 0.1,
       0.0, -0.1, 0.0, 0.1,
       0.0, -0.5, -0.4, 0.3,
       1.0, 1.6, 0.9, 1.1,
       1.2, 1.0, 0.8, 0.9,
       1.5, 1.1, 0.4, -0.1,
       -0.3, -1.0, -0.6, -1.6,
       -2.6, -3.0, -3.6, -3.3,
       -2.6, -1.8, -1.0, -0.7,
       -0.4, -0.1, -0.3, -0.4,
       -0.4, -0.4, -0.1, -0.4,
       -0.4, -0.4, -0.3, -0.3,
       -0.2, -0.3, -0.9, -0.6,
       -0.3, 0.0, -0.5, -0.8,
       -1.1, -1.4, -1.0, -0.8,
       -0.8, -0.6, -0.6, -0.4,
       0.2, -0.1, -0.5, -0.5,
       -0.4, -0.5, -0.4, -0.4,
       -0.7, -2.5, -7.8, -3.0,
       -2.0, 2.0, 9.8, 0.8,
       -1.3, 0.8, 0.4, 1.6,
       0.5, 0.0, 0.2, -0.3,
       0.0, 0.0, 0.1, 0.3,
       0.3, -0.1, 0.6]

currencies = ['AUD', 'BRL', 'CAD', 'CHF', 'CLP', 'COP', 'CZK', 'EUR', 'GBP', 'HUF',
              'ILS', 'JPY', 'KRW', 'MXN', 'MYR', 'NOK', 'NZD', 'PEN', 'PHP', 'PLN',
              'RON', 'RUB', 'SEK', 'SGD', 'THB', 'TRY', 'TWD', 'USD', 'ZAR']

series = {
    'AUD': (aud_start, aud), 'BRL': (brl_start, brl), 'CAD': (cad_start, cad),
    'CHF': (chf_start, chf), 'CLP': (clp_start, clp), 'COP': (cop_start, cop),
    'CZK': (czk_start, czk), 'EUR': (eur_start, eur), 'GBP': (gbp_start, gbp),
    'HUF': (huf_start, huf), 'ILS': (ils_start, ils), 'JPY': (jpy_start, jpy),
    'KRW': (krw_start, krw), 'MXN': (mxn_start, mxn), 'MYR': (myr_start, myr),
    'NOK': (nok_start, nok), 'NZD': (nzd_start, nzd), 'PEN': (pen_start, pen),
    'PHP': (php_start, php), 'PLN': (pln_start, pln), 'RON': (ron_start, ron),
    'RUB': (rub_start, rub), 'SEK': (sek_start, sek), 'SGD': (sgd_start, sgd),
    'THB': (thb_start, thb), 'TRY': (try_start, try_), 'TWD': (twd_start, twd),
    'USD': (usd_start, usd), 'ZAR': (zar_start, zar),
}

sns.set_style('darkgrid')
plt.rcParams['font.family'] = ['Liberation Sans', 'DejaVu Sans']
plt.rcParams['xtick.labelsize'] = 10.5
plt.rcParams['ytick.labelsize'] = 10.5

fig, axes = plt.subplots(6, 5, figsize=(34.42, 25.79), dpi=100)
fig.subplots_adjust(left=0.0183, right=0.9968, top=0.9639, bottom=0.0147,
                    wspace=0.117, hspace=0.2)
axes = axes.flatten()

for i, cid in enumerate(currencies):
    ax = axes[i]
    start, vals = series[cid]
    dates = pd.date_range(start, periods=len(vals), freq='3MS')
    ax.plot(dates, vals, color='#1f77b4', linewidth=1.4)
    ax.axhline(0, color='black', linestyle='--', linewidth=2)
    ax.set_title(cid, fontsize=13.5)
    ax.xaxis.set_major_locator(mdates.YearLocator(4))
    ax.xaxis.set_major_formatter(mdates.DateFormatter('%Y'))

for ax in axes[len(currencies):]:
    ax.axis('off')

fig.suptitle('Excess GDP growth z-scores', fontsize=17, y=0.9935, va='center')
fig.savefig('out.png', dpi=100)
